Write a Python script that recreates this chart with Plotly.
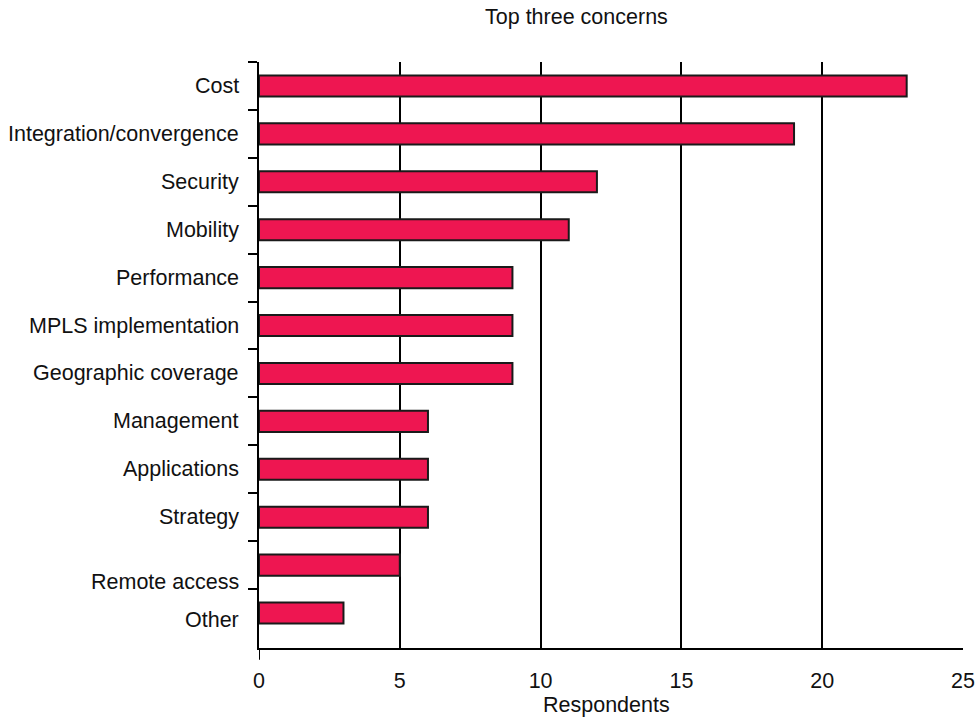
import plotly.graph_objects as go

categories = ["Cost", "Integration/convergence", "Security", "Mobility", "Performance",
              "MPLS implementation", "Geographic coverage", "Management", "Applications",
              "Strategy", "Remote access", "Other"]
respondents = [23, 19, 12, 11, 9, 9, 9, 6, 6, 6, 5, 3]
x_ticks = [0, 5, 10, 15, 20, 25]
title_text = "Top three concerns"
x_title = "Respondents"

# label vertical offsets in pixels (down positive) as seen in the original
label_offsets = {"Remote access": 17, "Other": 7}

FONT = "Liberation Sans, Arial, sans-serif"
FS = 21.5
BAR_COLOR = "#EE1651"

fig = go.Figure()
fig.add_trace(go.Bar(
    x=respondents, y=categories, orientation="h",
    marker=dict(color=BAR_COLOR, line=dict(color="#1a1a1a", width=2)),
    width=0.44, hoverinfo="x+y",
))

fig.update_layout(
    template="none",
    width=976, height=719,
    margin=dict(l=259, r=13, t=62, b=71, pad=0),
    paper_bgcolor="white", plot_bgcolor="white",
    font=dict(family=FONT, size=FS, color="#111"),
    showlegend=False,
)
fig.update_xaxes(
    automargin=False,
    range=[0, 25], tickvals=x_ticks, ticktext=[str(v) for v in x_ticks],
    showgrid=True, gridcolor="#000", gridwidth=2, zeroline=False,
    showline=True, linecolor="#000", linewidth=2, mirror=False,
    ticks="", ticklabelstandoff=12,
    tickfont=dict(family=FONT, size=FS, color="#111"),
)
fig.update_yaxes(
    automargin=False,
    type="category", categoryorder="array", categoryarray=categories,
    range=[len(categories) - 0.5 + 0.23, -0.5],
    showticklabels=False, showgrid=False, zeroline=False,
    showline=True, linecolor="#000", linewidth=2, mirror=False,
    ticks="outside", ticklen=9, tickwidth=2, tickcolor="#000", tickson="boundaries",
)

annotations = []
for c in categories:
    annotations.append(dict(
        text=c, xref="paper", yref="y", x=0, y=c, xanchor="right", yanchor="middle",
        xshift=-18, yshift=-label_offsets.get(c, 0), showarrow=False,
        font=dict(family=FONT, size=FS, color="#111"),
    ))
annotations.append(dict(text=title_text, xref="paper", yref="paper", x=0.451, y=1.076,
                        xanchor="center", yanchor="middle", showarrow=False,
                        font=dict(family=FONT, size=FS, color="#111")))
annotations.append(dict(text=x_title, xref="paper", yref="paper", x=0.4936, y=-0.097,
                        xanchor="center", yanchor="middle", showarrow=False,
                        font=dict(family=FONT, size=FS, color="#111")))
fig.update_layout(annotations=annotations)

# small extension of the vertical axis below the horizontal axis
fig.add_shape(type="line", xref="x", yref="paper", x0=0, x1=0, y0=0, y1=-0.02,
              line=dict(color="#000", width=2))

fig.write_html("out.html")
